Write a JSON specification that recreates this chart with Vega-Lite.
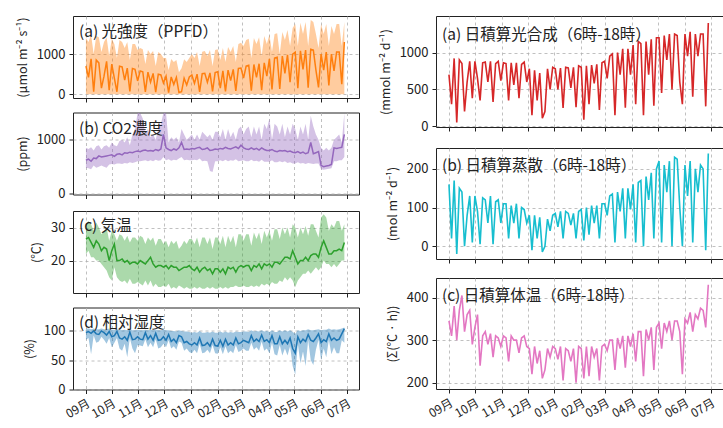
{
  "$schema": "https://vega.github.io/schema/vega-lite/v6.json",
  "padding": {"left": 15, "top": 15, "right": 0, "bottom": 0},
  "spacing": 18,
  "config": {
    "view": {"stroke": "#222", "strokeWidth": 1},
    "axis": {"domain": false, "grid": true, "gridColor": "#b0b0b0", "gridDash": [3, 3], "gridWidth": 0.8, "tickColor": "#222", "tickSize": 4, "labelFont": "Noto Sans CJK JP", "labelFontSize": 13, "labelColor": "#222", "titleFont": "Noto Sans CJK JP", "titleFontSize": 12.5, "titleFontWeight": "normal", "titleColor": "#222", "labelPadding": 4, "titlePadding": 7, "labelOverlap": false}
  },
  "datasets": {
    "m": [
      {"d":"2022/09/01","p":700,"pmax":1400,"c":620,"cl":480,"ch":850,"t":26.5,"tl":22,"th":31,"h":97,"hl":85,"hh":104,"a":700,"b":160,"e":345},
      {"d":"2022/09/04","p":420,"pmax":1300,"c":640,"cl":470,"ch":830,"t":27,"tl":23,"th":32,"h":99,"hl":88,"hh":104,"a":300,"b":20,"e":310},
      {"d":"2022/09/07","p":880,"pmax":1480,"c":600,"cl":450,"ch":860,"t":25.5,"tl":21,"th":31,"h":96,"hl":60,"hh":103,"a":920,"b":170,"e":380},
      {"d":"2022/09/10","p":60,"pmax":1000,"c":660,"cl":520,"ch":800,"t":24,"tl":21,"th":29,"h":100,"hl":92,"hh":104,"a":50,"b":-20,"e":300},
      {"d":"2022/09/13","p":850,"pmax":1450,"c":650,"cl":480,"ch":880,"t":26,"tl":20,"th":31.5,"h":95,"hl":80,"hh":103,"a":900,"b":150,"e":370},
      {"d":"2022/09/16","p":780,"pmax":1420,"c":700,"cl":500,"ch":900,"t":25,"tl":20,"th":30,"h":94,"hl":82,"hh":103,"a":850,"b":140,"e":405},
      {"d":"2022/09/19","p":150,"pmax":1050,"c":680,"cl":520,"ch":820,"t":23,"tl":19,"th":28,"h":100,"hl":90,"hh":104,"a":200,"b":0,"e":320},
      {"d":"2022/09/22","p":450,"pmax":1300,"c":690,"cl":500,"ch":880,"t":24,"tl":18,"th":29,"h":97,"hl":85,"hh":103,"a":600,"b":80,"e":360},
      {"d":"2022/09/25","p":820,"pmax":1420,"c":700,"cl":480,"ch":900,"t":23.5,"tl":17,"th":30,"h":93,"hl":78,"hh":103,"a":880,"b":130,"e":370},
      {"d":"2022/09/28","p":100,"pmax":950,"c":710,"cl":540,"ch":850,"t":20,"tl":15,"th":26,"h":99,"hl":88,"hh":104,"a":380,"b":10,"e":290},
      {"d":"2022/10/01","p":750,"pmax":1380,"c":720,"cl":550,"ch":950,"t":23,"tl":14,"th":29,"h":90,"hl":72,"hh":102,"a":880,"b":130,"e":330},
      {"d":"2022/10/04","p":400,"pmax":1250,"c":690,"cl":540,"ch":900,"t":25,"tl":18,"th":28,"h":92,"hl":80,"hh":102,"a":650,"b":90,"e":360},
      {"d":"2022/10/07","p":60,"pmax":900,"c":730,"cl":560,"ch":880,"t":20,"tl":15,"th":26,"h":99,"hl":88,"hh":103,"a":350,"b":5,"e":240},
      {"d":"2022/10/10","p":700,"pmax":1350,"c":740,"cl":560,"ch":980,"t":20,"tl":14,"th":28,"h":88,"hl":70,"hh":102,"a":860,"b":125,"e":310},
      {"d":"2022/10/13","p":680,"pmax":1300,"c":720,"cl":550,"ch":1000,"t":20.5,"tl":13.5,"th":27.5,"h":86,"hl":66,"hh":101,"a":870,"b":120,"e":320},
      {"d":"2022/10/16","p":350,"pmax":1150,"c":760,"cl":570,"ch":950,"t":19.5,"tl":14,"th":26,"h":90,"hl":78,"hh":102,"a":600,"b":60,"e":290},
      {"d":"2022/10/19","p":650,"pmax":1300,"c":750,"cl":560,"ch":1050,"t":20,"tl":13,"th":27.5,"h":84,"hl":55,"hh":101,"a":880,"b":130,"e":315},
      {"d":"2022/10/22","p":70,"pmax":850,"c":770,"cl":580,"ch":900,"t":19,"tl":14.5,"th":25.5,"h":98,"hl":88,"hh":103,"a":330,"b":5,"e":260},
      {"d":"2022/10/25","p":640,"pmax":1250,"c":760,"cl":570,"ch":1100,"t":19.5,"tl":13,"th":27,"h":85,"hl":70,"hh":101,"a":850,"b":115,"e":310},
      {"d":"2022/10/28","p":620,"pmax":1250,"c":780,"cl":580,"ch":1200,"t":19.5,"tl":13,"th":27,"h":86,"hl":62,"hh":101,"a":880,"b":120,"e":305},
      {"d":"2022/10/31","p":330,"pmax":1100,"c":790,"cl":600,"ch":1500,"t":19,"tl":13.5,"th":26,"h":90,"hl":76,"hh":102,"a":620,"b":60,"e":285},
      {"d":"2022/11/03","p":580,"pmax":1150,"c":780,"cl":600,"ch":1500,"t":20,"tl":13,"th":27.5,"h":86,"hl":75,"hh":101,"a":860,"b":110,"e":310},
      {"d":"2022/11/06","p":560,"pmax":1120,"c":800,"cl":610,"ch":1400,"t":19.5,"tl":12.5,"th":27,"h":85,"hl":74,"hh":101,"a":850,"b":110,"e":305},
      {"d":"2022/11/09","p":60,"pmax":750,"c":810,"cl":620,"ch":1100,"t":19,"tl":14,"th":25,"h":97,"hl":86,"hh":102,"a":350,"b":20,"e":250},
      {"d":"2022/11/12","p":550,"pmax":1100,"c":790,"cl":600,"ch":1200,"t":20,"tl":12.5,"th":27,"h":86,"hl":72,"hh":101,"a":860,"b":105,"e":310},
      {"d":"2022/11/15","p":300,"pmax":1000,"c":800,"cl":620,"ch":1050,"t":21,"tl":14,"th":26,"h":92,"hl":80,"hh":102,"a":560,"b":60,"e":300},
      {"d":"2022/11/18","p":520,"pmax":1080,"c":790,"cl":600,"ch":1100,"t":19,"tl":12,"th":27,"h":84,"hl":72,"hh":101,"a":860,"b":110,"e":300},
      {"d":"2022/11/21","p":50,"pmax":700,"c":820,"cl":630,"ch":1000,"t":18,"tl":13,"th":24.5,"h":96,"hl":86,"hh":102,"a":380,"b":20,"e":270},
      {"d":"2022/11/24","p":500,"pmax":1050,"c":800,"cl":610,"ch":1200,"t":18.5,"tl":12,"th":26.5,"h":84,"hl":70,"hh":101,"a":840,"b":100,"e":305},
      {"d":"2022/11/27","p":480,"pmax":1000,"c":830,"cl":620,"ch":1300,"t":18.5,"tl":12,"th":26.5,"h":85,"hl":72,"hh":101,"a":870,"b":95,"e":310},
      {"d":"2022/11/30","p":280,"pmax":900,"c":1100,"cl":680,"ch":1500,"t":18,"tl":12.5,"th":25,"h":90,"hl":78,"hh":102,"a":600,"b":60,"e":285},
      {"d":"2022/12/03","p":450,"pmax":900,"c":850,"cl":620,"ch":1500,"t":18.5,"tl":12,"th":26,"h":84,"hl":72,"hh":101,"a":780,"b":80,"e":280},
      {"d":"2022/12/06","p":40,"pmax":600,"c":820,"cl":640,"ch":950,"t":17.5,"tl":13,"th":24,"h":94,"hl":84,"hh":101,"a":150,"b":-10,"e":220},
      {"d":"2022/12/09","p":430,"pmax":880,"c":800,"cl":610,"ch":1050,"t":18.5,"tl":11.5,"th":26,"h":82,"hl":70,"hh":100,"a":760,"b":80,"e":285},
      {"d":"2022/12/12","p":240,"pmax":800,"c":830,"cl":630,"ch":1000,"t":18,"tl":12,"th":25,"h":86,"hl":74,"hh":100,"a":350,"b":20,"e":245},
      {"d":"2022/12/15","p":420,"pmax":850,"c":810,"cl":620,"ch":1050,"t":18,"tl":11.5,"th":26,"h":80,"hl":68,"hh":99,"a":720,"b":75,"e":275},
      {"d":"2022/12/18","p":40,"pmax":550,"c":850,"cl":650,"ch":950,"t":17,"tl":12.5,"th":23.5,"h":92,"hl":82,"hh":101,"a":110,"b":-15,"e":210},
      {"d":"2022/12/21","p":60,"pmax":650,"c":950,"cl":680,"ch":1200,"t":17.5,"tl":12,"th":24.5,"h":90,"hl":80,"hh":100,"a":200,"b":0,"e":230},
      {"d":"2022/12/24","p":400,"pmax":870,"c":820,"cl":620,"ch":1100,"t":18,"tl":11.5,"th":26,"h":80,"hl":66,"hh":99,"a":780,"b":70,"e":280},
      {"d":"2022/12/27","p":230,"pmax":800,"c":830,"cl":630,"ch":1000,"t":18,"tl":12,"th":25,"h":82,"hl":70,"hh":99,"a":500,"b":40,"e":260},
      {"d":"2022/12/30","p":430,"pmax":900,"c":820,"cl":620,"ch":1050,"t":18.5,"tl":11.5,"th":26.5,"h":78,"hl":64,"hh":98,"a":800,"b":80,"e":285},
      {"d":"2023/01/02","p":480,"pmax":1000,"c":840,"cl":620,"ch":1100,"t":17.5,"tl":11.5,"th":26.5,"h":76,"hl":62,"hh":97,"a":780,"b":85,"e":280},
      {"d":"2023/01/05","p":270,"pmax":900,"c":830,"cl":630,"ch":1000,"t":17,"tl":12,"th":25,"h":80,"hl":68,"hh":98,"a":500,"b":50,"e":255},
      {"d":"2023/01/08","p":500,"pmax":1050,"c":850,"cl":620,"ch":1100,"t":18,"tl":11.5,"th":27,"h":76,"hl":62,"hh":97,"a":790,"b":90,"e":285},
      {"d":"2023/01/11","p":60,"pmax":700,"c":860,"cl":650,"ch":1000,"t":16.5,"tl":12,"th":24,"h":88,"hl":78,"hh":100,"a":250,"b":20,"e":205},
      {"d":"2023/01/14","p":510,"pmax":1060,"c":820,"cl":600,"ch":1150,"t":17.5,"tl":11.5,"th":27,"h":75,"hl":62,"hh":97,"a":800,"b":90,"e":280},
      {"d":"2023/01/17","p":520,"pmax":1080,"c":830,"cl":610,"ch":1100,"t":18,"tl":11.5,"th":27,"h":76,"hl":63,"hh":97,"a":790,"b":85,"e":275},
      {"d":"2023/01/20","p":300,"pmax":950,"c":850,"cl":600,"ch":1050,"t":17,"tl":12,"th":25,"h":80,"hl":68,"hh":98,"a":520,"b":55,"e":250},
      {"d":"2023/01/23","p":530,"pmax":1100,"c":800,"cl":420,"ch":1100,"t":17.5,"tl":11.5,"th":27,"h":74,"hl":62,"hh":97,"a":800,"b":85,"e":280},
      {"d":"2023/01/26","p":70,"pmax":700,"c":810,"cl":400,"ch":1000,"t":16,"tl":12,"th":23.5,"h":86,"hl":76,"hh":99,"a":260,"b":20,"e":200},
      {"d":"2023/01/29","p":540,"pmax":1100,"c":830,"cl":600,"ch":1150,"t":17.5,"tl":11.5,"th":27,"h":75,"hl":62,"hh":97,"a":820,"b":90,"e":285},
      {"d":"2023/02/01","p":560,"pmax":1120,"c":820,"cl":600,"ch":1150,"t":17.5,"tl":11.5,"th":27,"h":74,"hl":61,"hh":97,"a":800,"b":95,"e":280},
      {"d":"2023/02/04","p":150,"pmax":850,"c":840,"cl":620,"ch":1050,"t":16.5,"tl":12,"th":25,"h":84,"hl":72,"hh":99,"a":90,"b":15,"e":210},
      {"d":"2023/02/07","p":580,"pmax":1150,"c":830,"cl":600,"ch":1200,"t":17.5,"tl":11.5,"th":27.5,"h":74,"hl":60,"hh":97,"a":820,"b":100,"e":285},
      {"d":"2023/02/10","p":70,"pmax":800,"c":860,"cl":630,"ch":1000,"t":16,"tl":12,"th":24,"h":86,"hl":74,"hh":99,"a":300,"b":30,"e":215},
      {"d":"2023/02/13","p":600,"pmax":1180,"c":840,"cl":600,"ch":1200,"t":18,"tl":11.5,"th":27.5,"h":76,"hl":62,"hh":97,"a":830,"b":105,"e":285},
      {"d":"2023/02/16","p":340,"pmax":1050,"c":830,"cl":620,"ch":1050,"t":17.5,"tl":12,"th":25.5,"h":80,"hl":66,"hh":98,"a":580,"b":60,"e":260},
      {"d":"2023/02/19","p":620,"pmax":1200,"c":850,"cl":610,"ch":1150,"t":18,"tl":12,"th":27.5,"h":76,"hl":62,"hh":97,"a":840,"b":105,"e":280},
      {"d":"2023/02/22","p":80,"pmax":800,"c":870,"cl":640,"ch":1000,"t":16.5,"tl":12.5,"th":24,"h":88,"hl":76,"hh":99,"a":220,"b":20,"e":205},
      {"d":"2023/02/25","p":640,"pmax":1250,"c":840,"cl":600,"ch":1200,"t":18,"tl":12,"th":28,"h":78,"hl":64,"hh":98,"a":860,"b":110,"e":285},
      {"d":"2023/02/28","p":650,"pmax":1280,"c":900,"cl":610,"ch":1250,"t":18.5,"tl":12,"th":28,"h":80,"hl":66,"hh":98,"a":880,"b":110,"e":290},
      {"d":"2023/03/03","p":400,"pmax":1200,"c":850,"cl":620,"ch":1100,"t":18,"tl":12.5,"th":26,"h":84,"hl":70,"hh":99,"a":650,"b":80,"e":275},
      {"d":"2023/03/06","p":700,"pmax":1350,"c":830,"cl":600,"ch":1200,"t":18.5,"tl":12,"th":28,"h":82,"hl":66,"hh":99,"a":950,"b":130,"e":300},
      {"d":"2023/03/09","p":720,"pmax":1380,"c":820,"cl":600,"ch":1250,"t":18.5,"tl":12,"th":28,"h":80,"hl":66,"hh":98,"a":980,"b":135,"e":300},
      {"d":"2023/03/12","p":90,"pmax":900,"c":850,"cl":630,"ch":1050,"t":17,"tl":12.5,"th":24.5,"h":92,"hl":80,"hh":101,"a":150,"b":10,"e":230},
      {"d":"2023/03/15","p":740,"pmax":1400,"c":820,"cl":600,"ch":1250,"t":18.5,"tl":12,"th":28.5,"h":82,"hl":68,"hh":99,"a":1000,"b":140,"e":305},
      {"d":"2023/03/18","p":420,"pmax":1250,"c":840,"cl":610,"ch":1100,"t":18,"tl":12.5,"th":26.5,"h":86,"hl":72,"hh":100,"a":700,"b":90,"e":280},
      {"d":"2023/03/21","p":760,"pmax":1420,"c":810,"cl":590,"ch":1250,"t":19,"tl":12,"th":28.5,"h":82,"hl":66,"hh":99,"a":1050,"b":150,"e":310},
      {"d":"2023/03/24","p":100,"pmax":950,"c":850,"cl":630,"ch":1000,"t":17.5,"tl":13,"th":25,"h":93,"hl":82,"hh":101,"a":250,"b":20,"e":235},
      {"d":"2023/03/27","p":780,"pmax":1450,"c":820,"cl":590,"ch":1300,"t":19,"tl":12.5,"th":29,"h":82,"hl":66,"hh":99,"a":1050,"b":150,"e":310},
      {"d":"2023/03/30","p":450,"pmax":1250,"c":800,"cl":590,"ch":1200,"t":18.5,"tl":13,"th":27,"h":85,"hl":70,"hh":100,"a":700,"b":95,"e":285},
      {"d":"2023/04/02","p":880,"pmax":1480,"c":800,"cl":590,"ch":1400,"t":19,"tl":12.5,"th":29,"h":80,"hl":62,"hh":98,"a":1100,"b":160,"e":315},
      {"d":"2023/04/05","p":120,"pmax":1050,"c":820,"cl":620,"ch":1000,"t":18,"tl":13.5,"th":26,"h":92,"hl":80,"hh":101,"a":300,"b":10,"e":250},
      {"d":"2023/04/08","p":900,"pmax":1500,"c":790,"cl":580,"ch":1300,"t":19.5,"tl":13,"th":29.5,"h":78,"hl":60,"hh":98,"a":1150,"b":165,"e":320},
      {"d":"2023/04/11","p":920,"pmax":1520,"c":780,"cl":580,"ch":1250,"t":19.5,"tl":13,"th":29.5,"h":78,"hl":58,"hh":98,"a":1120,"b":170,"e":320},
      {"d":"2023/04/14","p":130,"pmax":1000,"c":800,"cl":600,"ch":1100,"t":19,"tl":14,"th":26.5,"h":90,"hl":76,"hh":101,"a":150,"b":0,"e":215},
      {"d":"2023/04/17","p":950,"pmax":1550,"c":790,"cl":580,"ch":1300,"t":20,"tl":13.5,"th":30,"h":78,"hl":58,"hh":99,"a":1150,"b":180,"e":325},
      {"d":"2023/04/20","p":520,"pmax":1350,"c":800,"cl":600,"ch":1050,"t":21,"tl":15,"th":28,"h":84,"hl":70,"hh":101,"a":700,"b":120,"e":300},
      {"d":"2023/04/23","p":980,"pmax":1600,"c":780,"cl":570,"ch":1250,"t":21,"tl":14,"th":30,"h":78,"hl":58,"hh":99,"a":1180,"b":190,"e":330},
      {"d":"2023/04/26","p":300,"pmax":1200,"c":790,"cl":580,"ch":1100,"t":20.5,"tl":15,"th":27,"h":88,"hl":74,"hh":101,"a":280,"b":20,"e":230},
      {"d":"2023/04/29","p":1000,"pmax":1650,"c":770,"cl":560,"ch":1300,"t":23,"tl":14,"th":31,"h":70,"hl":40,"hh":98,"a":1200,"b":200,"e":330},
      {"d":"2023/05/02","p":1050,"pmax":1750,"c":760,"cl":560,"ch":1200,"t":21,"tl":12,"th":30,"h":62,"hl":25,"hh":95,"a":1200,"b":220,"e":340},
      {"d":"2023/05/05","p":150,"pmax":1200,"c":780,"cl":580,"ch":1000,"t":19,"tl":14,"th":27,"h":90,"hl":78,"hh":101,"a":450,"b":10,"e":280},
      {"d":"2023/05/08","p":1080,"pmax":1780,"c":750,"cl":560,"ch":1250,"t":20,"tl":15,"th":30,"h":80,"hl":45,"hh":100,"a":1230,"b":210,"e":340},
      {"d":"2023/05/11","p":620,"pmax":1500,"c":770,"cl":570,"ch":1100,"t":20,"tl":16,"th":28,"h":86,"hl":65,"hh":101,"a":900,"b":140,"e":320},
      {"d":"2023/05/14","p":1100,"pmax":1800,"c":740,"cl":550,"ch":1300,"t":21,"tl":16,"th":30.5,"h":82,"hl":40,"hh":101,"a":1250,"b":220,"e":345},
      {"d":"2023/05/17","p":160,"pmax":1200,"c":760,"cl":570,"ch":1000,"t":20,"tl":17,"th":27.5,"h":94,"hl":84,"hh":103,"a":500,"b":0,"e":300},
      {"d":"2023/05/20","p":1120,"pmax":1850,"c":950,"cl":560,"ch":1450,"t":21.5,"tl":16,"th":31,"h":84,"hl":50,"hh":101,"a":1250,"b":230,"e":345},
      {"d":"2023/05/23","p":1100,"pmax":1800,"c":740,"cl":550,"ch":1250,"t":22,"tl":17,"th":31,"h":82,"hl":42,"hh":101,"a":1230,"b":225,"e":345},
      {"d":"2023/05/26","p":600,"pmax":1500,"c":760,"cl":560,"ch":1100,"t":22,"tl":18,"th":29,"h":88,"hl":68,"hh":102,"a":600,"b":100,"e":320},
      {"d":"2023/05/29","p":170,"pmax":1150,"c":780,"cl":560,"ch":1000,"t":21,"tl":17,"th":27,"h":95,"hl":85,"hh":103,"a":300,"b":0,"e":220},
      {"d":"2023/06/01","p":1000,"pmax":1750,"c":520,"cl":450,"ch":850,"t":24,"tl":18,"th":33,"h":80,"hl":50,"hh":101,"a":1250,"b":210,"e":350},
      {"d":"2023/06/04","p":600,"pmax":1500,"c":500,"cl":440,"ch":800,"t":26,"tl":20,"th":34,"h":85,"hl":70,"hh":102,"a":950,"b":130,"e":340},
      {"d":"2023/06/07","p":1050,"pmax":1750,"c":510,"cl":450,"ch":850,"t":24,"tl":19,"th":33,"h":82,"hl":55,"hh":102,"a":1280,"b":220,"e":365},
      {"d":"2023/06/10","p":220,"pmax":1200,"c":520,"cl":460,"ch":800,"t":22,"tl":19,"th":29,"h":95,"hl":85,"hh":104,"a":400,"b":10,"e":320},
      {"d":"2023/06/13","p":1000,"pmax":1700,"c":540,"cl":470,"ch":850,"t":22,"tl":18,"th":31,"h":84,"hl":60,"hh":102,"a":1250,"b":200,"e":360},
      {"d":"2023/06/16","p":580,"pmax":1500,"c":850,"cl":600,"ch":1000,"t":23,"tl":19,"th":30,"h":88,"hl":72,"hh":103,"a":950,"b":140,"e":350},
      {"d":"2023/06/19","p":1050,"pmax":1750,"c":840,"cl":600,"ch":1050,"t":23,"tl":18,"th":32,"h":84,"hl":62,"hh":102,"a":1250,"b":210,"e":375},
      {"d":"2023/06/22","p":1050,"pmax":1750,"c":850,"cl":620,"ch":1100,"t":23.5,"tl":19,"th":32,"h":86,"hl":62,"hh":103,"a":1250,"b":200,"e":370},
      {"d":"2023/06/25","p":250,"pmax":1200,"c":860,"cl":620,"ch":950,"t":23,"tl":20,"th":29,"h":95,"hl":84,"hh":104,"a":270,"b":-10,"e":330},
      {"d":"2023/06/28","p":1300,"pmax":1800,"c":1100,"cl":680,"ch":1500,"t":25.5,"tl":20,"th":31,"h":104,"hl":80,"hh":106,"a":1400,"b":240,"e":430}
    ]
  },
  "hconcat": [
    {
      "spacing": 8.5,
      "vconcat": [
        {
          "width": 286, "height": 82, "data": {"name": "m"},
          "encoding": {"x": {"field": "d", "type": "temporal", "scale": {"domain": [{"year": 2022, "month": 8, "date": 17}, {"year": 2023, "month": 7, "date": 15}]}, "axis": {"values": [{"year": 2022, "month": 9, "date": 1}, {"year": 2022, "month": 10, "date": 1}, {"year": 2022, "month": 11, "date": 1}, {"year": 2022, "month": 12, "date": 1}, {"year": 2023, "month": 1, "date": 1}, {"year": 2023, "month": 2, "date": 1}, {"year": 2023, "month": 3, "date": 1}, {"year": 2023, "month": 4, "date": 1}, {"year": 2023, "month": 5, "date": 1}, {"year": 2023, "month": 6, "date": 1}, {"year": 2023, "month": 7, "date": 1}], "labels": false, "title": null}}},
          "layer": [
            {"mark": {"type": "area", "color": "#ff7f0e", "opacity": 0.4}, "encoding": {"y": {"field": "pmax", "type": "quantitative", "scale": {"domain": [-95, 1950], "nice": false, "zero": false}, "axis": {"values": [0, 1000], "format": "d"}, "title": "(µmol m⁻² s⁻¹)"}, "y2": {"datum": 0}}},
            {"mark": {"type": "line", "color": "#ff7f0e", "strokeWidth": 1.5}, "encoding": {"y": {"field": "p", "type": "quantitative", "title": "(µmol m⁻² s⁻¹)"}}},
            {"transform": [{"filter": {"field": "d", "equal": {"year": 2022, "month": 9, "date": 1}}}], "mark": {"type": "text", "align": "left", "baseline": "middle", "fontSize": 15.5, "dx": -7, "font": "Noto Sans CJK JP", "color": "#222"}, "encoding": {"y": {"datum": 1555, "type": "quantitative"}, "text": {"value": "(a) 光強度（PPFD）"}}}
          ]
        },
        {
          "width": 286, "height": 82, "data": {"name": "m"},
          "encoding": {"x": {"field": "d", "type": "temporal", "scale": {"domain": [{"year": 2022, "month": 8, "date": 17}, {"year": 2023, "month": 7, "date": 15}]}, "axis": {"values": [{"year": 2022, "month": 9, "date": 1}, {"year": 2022, "month": 10, "date": 1}, {"year": 2022, "month": 11, "date": 1}, {"year": 2022, "month": 12, "date": 1}, {"year": 2023, "month": 1, "date": 1}, {"year": 2023, "month": 2, "date": 1}, {"year": 2023, "month": 3, "date": 1}, {"year": 2023, "month": 4, "date": 1}, {"year": 2023, "month": 5, "date": 1}, {"year": 2023, "month": 6, "date": 1}, {"year": 2023, "month": 7, "date": 1}], "labels": false, "title": null}}},
          "layer": [
            {"mark": {"type": "area", "color": "#9467bd", "opacity": 0.4, "clip": true}, "encoding": {"y": {"field": "ch", "type": "quantitative", "scale": {"domain": [-20, 1510], "nice": false, "zero": false}, "axis": {"values": [0, 1000], "format": "d"}, "title": "(ppm)"}, "y2": {"field": "cl"}}},
            {"mark": {"type": "line", "color": "#9467bd", "strokeWidth": 1.5}, "encoding": {"y": {"field": "c", "type": "quantitative", "title": "(ppm)"}}},
            {"transform": [{"filter": {"field": "d", "equal": {"year": 2022, "month": 9, "date": 1}}}], "mark": {"type": "text", "align": "left", "baseline": "middle", "fontSize": 15.5, "dx": -7, "font": "Noto Sans CJK JP", "color": "#222"}, "encoding": {"y": {"datum": 1209, "type": "quantitative"}, "text": {"value": "(b) CO2濃度"}}}
          ]
        },
        {
          "width": 286, "height": 82, "data": {"name": "m"},
          "encoding": {"x": {"field": "d", "type": "temporal", "scale": {"domain": [{"year": 2022, "month": 8, "date": 17}, {"year": 2023, "month": 7, "date": 15}]}, "axis": {"values": [{"year": 2022, "month": 9, "date": 1}, {"year": 2022, "month": 10, "date": 1}, {"year": 2022, "month": 11, "date": 1}, {"year": 2022, "month": 12, "date": 1}, {"year": 2023, "month": 1, "date": 1}, {"year": 2023, "month": 2, "date": 1}, {"year": 2023, "month": 3, "date": 1}, {"year": 2023, "month": 4, "date": 1}, {"year": 2023, "month": 5, "date": 1}, {"year": 2023, "month": 6, "date": 1}, {"year": 2023, "month": 7, "date": 1}], "labels": false, "title": null}}},
          "layer": [
            {"mark": {"type": "area", "color": "#2ca02c", "opacity": 0.4}, "encoding": {"y": {"field": "th", "type": "quantitative", "scale": {"domain": [10.2, 35], "nice": false, "zero": false}, "axis": {"values": [20, 30], "format": "d"}, "title": "(℃)"}, "y2": {"field": "tl"}}},
            {"mark": {"type": "line", "color": "#2ca02c", "strokeWidth": 1.5}, "encoding": {"y": {"field": "t", "type": "quantitative", "title": "(℃)"}}},
            {"transform": [{"filter": {"field": "d", "equal": {"year": 2022, "month": 9, "date": 1}}}], "mark": {"type": "text", "align": "left", "baseline": "middle", "fontSize": 15.5, "dx": -7, "font": "Noto Sans CJK JP", "color": "#222"}, "encoding": {"y": {"datum": 30.4, "type": "quantitative"}, "text": {"value": "(c) 気温"}}}
          ]
        },
        {
          "width": 286, "height": 82, "data": {"name": "m"},
          "encoding": {"x": {"field": "d", "type": "temporal", "scale": {"domain": [{"year": 2022, "month": 8, "date": 17}, {"year": 2023, "month": 7, "date": 15}]}, "axis": {"values": [{"year": 2022, "month": 9, "date": 1}, {"year": 2022, "month": 10, "date": 1}, {"year": 2022, "month": 11, "date": 1}, {"year": 2022, "month": 12, "date": 1}, {"year": 2023, "month": 1, "date": 1}, {"year": 2023, "month": 2, "date": 1}, {"year": 2023, "month": 3, "date": 1}, {"year": 2023, "month": 4, "date": 1}, {"year": 2023, "month": 5, "date": 1}, {"year": 2023, "month": 6, "date": 1}, {"year": 2023, "month": 7, "date": 1}], "format": "%m月", "labelAngle": -30, "labelAlign": "right", "labelBaseline": "top", "labelFontSize": 12, "title": null}}},
          "layer": [
            {"mark": {"type": "area", "color": "#1f77b4", "opacity": 0.42}, "encoding": {"y": {"field": "hh", "type": "quantitative", "scale": {"domain": [0, 140], "nice": false, "zero": false}, "axis": {"values": [0, 50, 100], "format": "d"}, "title": "(%)"}, "y2": {"field": "hl"}}},
            {"mark": {"type": "line", "color": "#1f77b4", "strokeWidth": 1.5}, "encoding": {"y": {"field": "h", "type": "quantitative", "title": "(%)"}}},
            {"transform": [{"filter": {"field": "d", "equal": {"year": 2022, "month": 9, "date": 1}}}], "mark": {"type": "text", "align": "left", "baseline": "middle", "fontSize": 15.5, "dx": -7, "font": "Noto Sans CJK JP", "color": "#222"}, "encoding": {"y": {"datum": 113, "type": "quantitative"}, "text": {"value": "(d) 相対湿度"}}}
          ]
        }
      ]
    },
    {
      "spacing": 13,
      "vconcat": [
        {
          "width": 287, "height": 111, "data": {"name": "m"},
          "encoding": {"x": {"field": "d", "type": "temporal", "scale": {"domain": [{"year": 2022, "month": 8, "date": 17}, {"year": 2023, "month": 7, "date": 15}]}, "axis": {"values": [{"year": 2022, "month": 9, "date": 1}, {"year": 2022, "month": 10, "date": 1}, {"year": 2022, "month": 11, "date": 1}, {"year": 2022, "month": 12, "date": 1}, {"year": 2023, "month": 1, "date": 1}, {"year": 2023, "month": 2, "date": 1}, {"year": 2023, "month": 3, "date": 1}, {"year": 2023, "month": 4, "date": 1}, {"year": 2023, "month": 5, "date": 1}, {"year": 2023, "month": 6, "date": 1}, {"year": 2023, "month": 7, "date": 1}], "labels": false, "title": null}}},
          "layer": [
            {"mark": {"type": "line", "color": "#d62728", "strokeWidth": 1.6}, "encoding": {"y": {"field": "a", "type": "quantitative", "scale": {"domain": [-10, 1495], "nice": false, "zero": false}, "axis": {"values": [0, 500, 1000], "format": "d"}, "title": "(mmol m⁻² d⁻¹)"}}},
            {"transform": [{"filter": {"field": "d", "equal": {"year": 2022, "month": 9, "date": 1}}}], "mark": {"type": "text", "align": "left", "baseline": "middle", "fontSize": 15.5, "dx": -7, "font": "Noto Sans CJK JP", "color": "#222"}, "encoding": {"y": {"datum": 1239, "type": "quantitative"}, "text": {"value": "(a) 日積算光合成（6時-18時）"}}}
          ]
        },
        {
          "width": 287, "height": 111, "data": {"name": "m"},
          "encoding": {"x": {"field": "d", "type": "temporal", "scale": {"domain": [{"year": 2022, "month": 8, "date": 17}, {"year": 2023, "month": 7, "date": 15}]}, "axis": {"values": [{"year": 2022, "month": 9, "date": 1}, {"year": 2022, "month": 10, "date": 1}, {"year": 2022, "month": 11, "date": 1}, {"year": 2022, "month": 12, "date": 1}, {"year": 2023, "month": 1, "date": 1}, {"year": 2023, "month": 2, "date": 1}, {"year": 2023, "month": 3, "date": 1}, {"year": 2023, "month": 4, "date": 1}, {"year": 2023, "month": 5, "date": 1}, {"year": 2023, "month": 6, "date": 1}, {"year": 2023, "month": 7, "date": 1}], "labels": false, "title": null}}},
          "layer": [
            {"mark": {"type": "line", "color": "#17becf", "strokeWidth": 1.6}, "encoding": {"y": {"field": "b", "type": "quantitative", "scale": {"domain": [-33, 254], "nice": false, "zero": false}, "axis": {"values": [0, 100, 200], "format": "d"}, "title": "(mol m⁻² d⁻¹)"}}},
            {"transform": [{"filter": {"field": "d", "equal": {"year": 2022, "month": 9, "date": 1}}}], "mark": {"type": "text", "align": "left", "baseline": "middle", "fontSize": 15.5, "dx": -7, "font": "Noto Sans CJK JP", "color": "#222"}, "encoding": {"y": {"datum": 208, "type": "quantitative"}, "text": {"value": "(b) 日積算蒸散（6時-18時）"}}}
          ]
        },
        {
          "width": 287, "height": 111, "data": {"name": "m"},
          "encoding": {"x": {"field": "d", "type": "temporal", "scale": {"domain": [{"year": 2022, "month": 8, "date": 17}, {"year": 2023, "month": 7, "date": 15}]}, "axis": {"values": [{"year": 2022, "month": 9, "date": 1}, {"year": 2022, "month": 10, "date": 1}, {"year": 2022, "month": 11, "date": 1}, {"year": 2022, "month": 12, "date": 1}, {"year": 2023, "month": 1, "date": 1}, {"year": 2023, "month": 2, "date": 1}, {"year": 2023, "month": 3, "date": 1}, {"year": 2023, "month": 4, "date": 1}, {"year": 2023, "month": 5, "date": 1}, {"year": 2023, "month": 6, "date": 1}, {"year": 2023, "month": 7, "date": 1}], "format": "%m月", "labelAngle": -30, "labelAlign": "right", "labelBaseline": "top", "labelFontSize": 12, "title": null}}},
          "layer": [
            {"mark": {"type": "line", "color": "#e377c2", "strokeWidth": 1.6}, "encoding": {"y": {"field": "e", "type": "quantitative", "scale": {"domain": [185, 446], "nice": false, "zero": false}, "axis": {"values": [200, 300, 400], "format": "d"}, "title": "(Σ(℃ · h))"}}},
            {"transform": [{"filter": {"field": "d", "equal": {"year": 2022, "month": 9, "date": 1}}}], "mark": {"type": "text", "align": "left", "baseline": "middle", "fontSize": 15.5, "dx": -7, "font": "Noto Sans CJK JP", "color": "#222"}, "encoding": {"y": {"datum": 404, "type": "quantitative"}, "text": {"value": "(c) 日積算体温（6時-18時）"}}}
          ]
        }
      ]
    }
  ]
}
